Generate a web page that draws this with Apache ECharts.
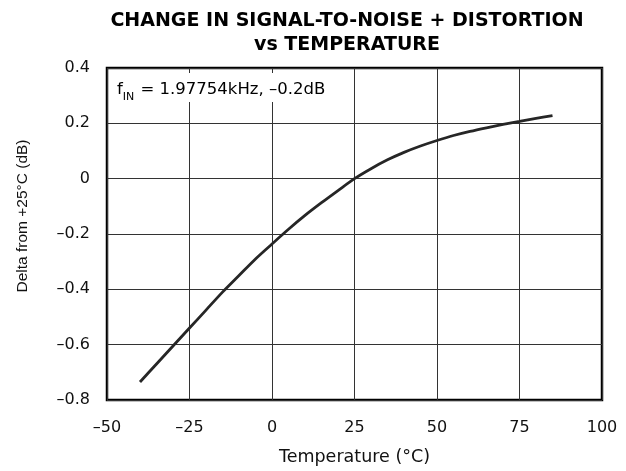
<!DOCTYPE html>
<html>
<head>
<meta charset="utf-8">
<script src="https://cdn.jsdelivr.net/npm/echarts@6/dist/echarts.min.js"></script>
<style>
  html, body { margin: 0; padding: 0; background: #fff; }
  #chart { width: 626px; height: 471px; }
</style>
</head>
<body>
<div id="chart"></div>
<script>
// Temperature sweep (°C) and the SINAD change relative to +25°C (dB)
var temperature = [-40, -35, -30, -25, -20, -15, -10, -5, 0, 5, 10, 15, 20, 25, 30, 35, 40, 45, 50, 55, 60, 65, 70, 75, 80, 85];
var deltaSinad = [-0.735, -0.67, -0.605, -0.54, -0.475, -0.41, -0.35, -0.29, -0.236, -0.183, -0.133, -0.087, -0.043, 0, 0.036, 0.068, 0.095, 0.118, 0.138, 0.156, 0.171, 0.184, 0.196, 0.207, 0.218, 0.228];

var xTicks = [-50, -25, 0, 25, 50, 75, 100];
var yTicks = [-0.8, -0.6, -0.4, -0.2, 0, 0.2, 0.4];

var titleLines = ['CHANGE IN SIGNAL-TO-NOISE + DISTORTION', 'vs TEMPERATURE'];
var xAxisName = 'Temperature (\u00B0C)';
var yAxisName = 'Delta from +25\u00B0C (dB)';

var FONT = '"DejaVu Sans", "Liberation Sans", Arial, sans-serif';
var FONT_NARROW = '"Liberation Sans", Arial, sans-serif';

function dashMinus(v) {
  var s = String(Math.round(v * 10) / 10);
  return s.replace('-', '\u2013');
}

var chart = echarts.init(document.getElementById('chart'));
chart.setOption({
  backgroundColor: '#ffffff',
  animation: false,
  title: {
    text: titleLines.join('\n'),
    left: 342,
    textAlign: 'center',
    top: 4,
    textStyle: {
      fontFamily: FONT,
      fontWeight: 'bold',
      fontSize: 19,
      lineHeight: 24,
      color: '#000'
    }
  },
  grid: {
    left: 107,
    right: 24,
    top: 68,
    bottom: 68,
    show: true,
    borderColor: '#000',
    borderWidth: 2.5,
    backgroundColor: 'transparent'
  },
  xAxis: {
    type: 'value',
    min: xTicks[0],
    max: xTicks[xTicks.length - 1],
    interval: 25,
    name: xAxisName,
    nameLocation: 'middle',
    nameGap: 48,
    nameTextStyle: { fontFamily: FONT, fontSize: 17.5, color: '#111' },
    axisLine: { show: false },
    axisTick: { show: false },
    axisLabel: {
      fontFamily: FONT, fontSize: 16, color: '#111', margin: 20,
      formatter: function (v) { return dashMinus(v); }
    },
    splitLine: { show: true, lineStyle: { color: '#333', width: 1 } }
  },
  yAxis: {
    type: 'value',
    min: yTicks[0],
    max: yTicks[yTicks.length - 1],
    interval: 0.2,
    name: yAxisName,
    nameLocation: 'middle',
    nameGap: 76,
    nameRotate: 90,
    nameTextStyle: { fontFamily: FONT_NARROW, fontSize: 15.5, color: '#111', padding: [0, 0, 0, 36] },
    axisLine: { show: false },
    axisTick: { show: false },
    axisLabel: {
      fontFamily: FONT, fontSize: 16, color: '#111', margin: 17,
      formatter: function (v) { return dashMinus(v); }
    },
    splitLine: { show: true, lineStyle: { color: '#333', width: 1 } }
  },
  series: [{
    type: 'line',
    data: temperature.map(function (t, i) { return [t, deltaSinad[i]]; }),
    smooth: 0.3,
    showSymbol: false,
    lineStyle: { color: '#262626', width: 2.8 },
    z: 5
  }],
  graphic: [{
    type: 'text',
    left: 112,
    top: 73,
    z: 10,
    style: {
      text: '{f|f}{s|IN}{f| = 1.97754kHz, \u20130.2dB}',
      backgroundColor: '#fff',
      padding: [3, 6, 4, 5],
      rich: {
        f: { fontFamily: FONT, fontSize: 16.5, color: '#111', verticalAlign: 'bottom', lineHeight: 22 },
        s: { fontFamily: FONT, fontSize: 11, color: '#111', verticalAlign: 'bottom', lineHeight: 16, padding: [0, 1, -5, 0] }
      }
    }
  }]
});
</script>
</body>
</html>
